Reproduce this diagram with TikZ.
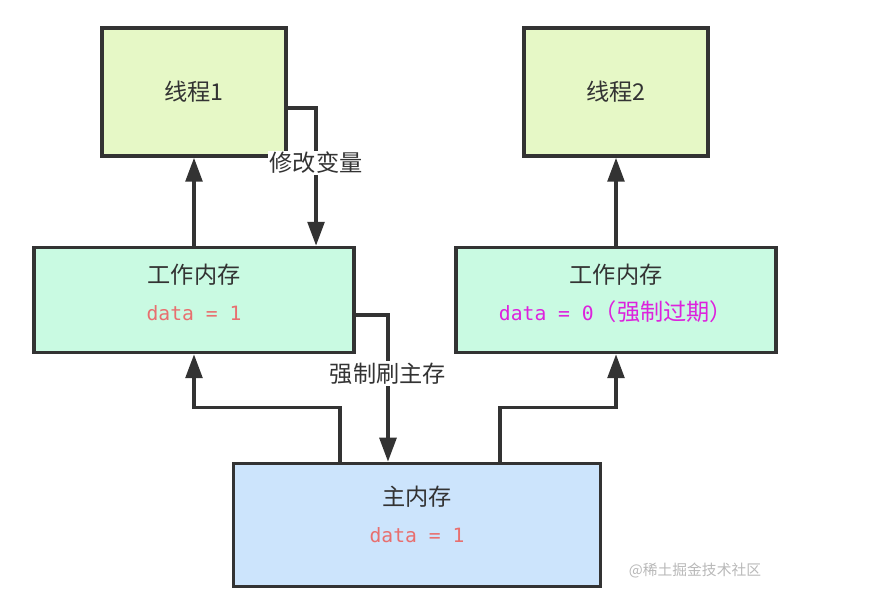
\documentclass[tikz,border=0pt]{standalone}
\usepackage{fontspec}
\setmainfont{Noto Sans CJK SC}
\newfontfamily\codefont{DejaVu Sans Mono}
\usepackage{xcolor}
\usetikzlibrary{arrows.meta,positioning,calc}

\definecolor{threadfill}{HTML}{E6F8C6}
\definecolor{workfill}{HTML}{C9FAE2}
\definecolor{mainfill}{HTML}{CCE4FC}
\definecolor{edgegray}{HTML}{333333}
\definecolor{valred}{HTML}{E86F6F}
\definecolor{valpink}{HTML}{DD22DD}

\newcommand{\dataval}[2]{\textcolor{#1}{{\codefont\fontsize{14}{17}\selectfont #2}}}

\begin{document}
\begin{tikzpicture}[
                x=0.025cm, y=-0.025cm,
                font=\fontsize{16.5}{19}\selectfont,
                threadbox/.style={draw=edgegray, line width=2.6pt, fill=threadfill, text=edgegray, align=center, minimum width=4.6cm, minimum height=3.2cm},
                workbox/.style={draw=edgegray, line width=2.6pt, fill=workfill, text=edgegray, align=center, minimum width=8cm, minimum height=2.625cm},
                mainbox/.style={draw=edgegray, line width=2.6pt, fill=mainfill, text=edgegray, align=center, minimum width=9.175cm, minimum height=3.075cm},
                bus/.style={-{Triangle[length=17pt, width=12pt]}, line width=2.2pt, draw=edgegray},
                tag/.style={fill=white, text=edgegray, inner sep=1pt}
            ]
            \useasboundingbox (0,0) rectangle (890,616);
            \node[threadbox] (thread1) at (194,92) {线程1};
            \node[threadbox] (thread2) at (616,92) {线程2};
            \node[workbox] (work1) at (194,300) {工作内存\\[7pt]\dataval{valred}{data = 1}\\[-8pt]\mbox{}};
            \node[workbox] (work2) at (616,300) {工作内存\\[7pt]\dataval{valpink}{data = 0}\textcolor{valpink}{（强制过期）}\\[-8pt]\mbox{}};
            \node[mainbox] (mem) at (417,525) {主内存\\[7pt]\dataval{valred}{data = 1}\\[-4pt]\mbox{}};
            \node[text=black!28, font=\fontsize{10.5}{12}\selectfont, anchor=west] (mark) at (624,571) {@稀土掘金技术社区};
            \draw[bus] (work1.north) -- (thread1.south);
            \draw[bus] (work2.north) -- (thread2.south);
            \draw[bus] ([yshift=-0.4cm]thread1.east) -| node[tag, pos=0.7] {修改变量} ([xshift=3.05cm]work1.north);
            \draw[bus] ([yshift=-0.375cm]work1.east) -| node[tag, pos=0.7] {强制刷主存} ([xshift=-0.725cm]mem.north);
            \draw[bus] ([xshift=-1.925cm]mem.north) -- ++(0,-54) -| (work1.south);
            \draw[bus] ([xshift=2.075cm]mem.north) -- ++(0,-54) -| (work2.south);
        \end{tikzpicture}
\end{document}
